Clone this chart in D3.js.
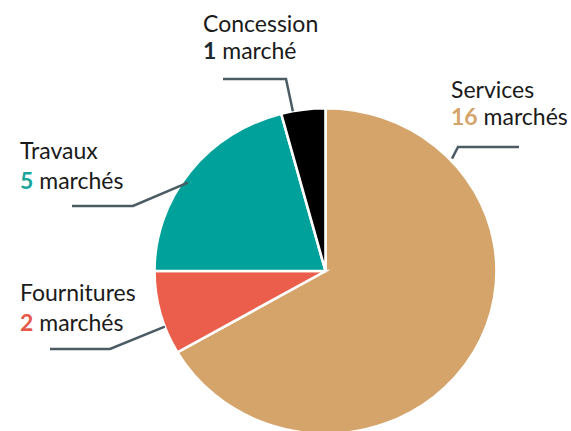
<!DOCTYPE html>
<html>
<head>
<meta charset="utf-8">
<script src="https://cdn.jsdelivr.net/npm/d3@7"></script>
<style>
  body { margin: 0; background: #fff; }
  text { font-family: Lato, "Noto Sans", sans-serif; }
</style>
</head>
<body>
<script>
var categories = ["Services", "Fournitures", "Travaux", "Concession"];
var counts = [16, 2, 5, 1];
var colors = ["#d5a46b", "#ea5e4b", "#00a19a", "#000000"];
var numColors = ["#d5a46b", "#e5584a", "#19a59c", "#1c2b30"];
var units = ["marchés", "marchés", "marchés", "marché"];

// label layout: text pos, leader end/elbow, point on pie (deg, radius)
var labelLayout = [
  { x: 451, y1: 98, y2: 125, end: [519, 147], elbow: [458, 147], deg: 47, r: 173 },
  { x: 20, y1: 301, y2: 331, end: [50, 349], elbow: [110, 349], deg: 250, r: 171 },
  { x: 20, y1: 159, y2: 189, end: [72, 206], elbow: [133, 206], deg: 304, r: 166 },
  { x: 203, y1: 32, y2: 59, end: [223, 79], elbow: [286, 79], deg: 349, r: 171 }
];

var w = 571;
var h = 431;
var cx = 325.5, cy = 271;
var radius = 171;
var squash = 0.952;

var svg = d3.select("body").append("svg")
    .attr("width", w)
    .attr("height", h);

var data = categories.map(function(c, i) { return { name: c, value: counts[i], i: i }; });

var pie = d3.pie()
    .sort(null)
    .value(function(d) { return d.value; });

var arc = d3.arc()
    .innerRadius(0)
    .outerRadius(radius);

var g = svg.append("g")
    .attr("transform", "translate(" + cx + "," + cy + ") scale(1," + squash + ")");

g.selectAll("path")
  .data(pie(data))
  .enter()
  .append("path")
  .attr("d", arc)
  .attr("fill", function(d) { return colors[d.data.i]; })
  .attr("stroke", "#fff")
  .attr("stroke-width", 2.6);

// leader lines
svg.selectAll("polyline.leader")
  .data(data)
  .enter()
  .append("polyline")
  .attr("class", "leader")
  .attr("points", function(d) {
    var L = labelLayout[d.i];
    var a = L.deg * Math.PI / 180;
    var px = cx + L.r * Math.sin(a);
    var py = cy - L.r * Math.cos(a) * squash;
    return [L.end, L.elbow, [px, py]].map(function(p) { return p.join(","); }).join(" ");
  })
  .attr("fill", "none")
  .attr("stroke", "#4b5b63")
  .attr("stroke-width", 2.5);

var labels = svg.selectAll("g.label")
  .data(data)
  .enter()
  .append("g")
  .attr("class", "label");

labels.append("text")
  .attr("x", function(d) { return labelLayout[d.i].x; })
  .attr("y", function(d) { return labelLayout[d.i].y1; })
  .attr("font-size", "23px")
  .attr("fill", "#1a1a1a")
  .text(function(d) { return d.name; });

var second = labels.append("text")
  .attr("x", function(d) { return labelLayout[d.i].x; })
  .attr("y", function(d) { return labelLayout[d.i].y2; })
  .attr("font-size", "23px")
  .attr("fill", "#1a1a1a");

second.append("tspan")
  .attr("font-weight", "bold")
  .attr("fill", function(d) { return numColors[d.i]; })
  .text(function(d) { return d.value; });

second.append("tspan")
  .text(function(d) { return " " + units[d.i]; });
</script>
</body>
</html>
